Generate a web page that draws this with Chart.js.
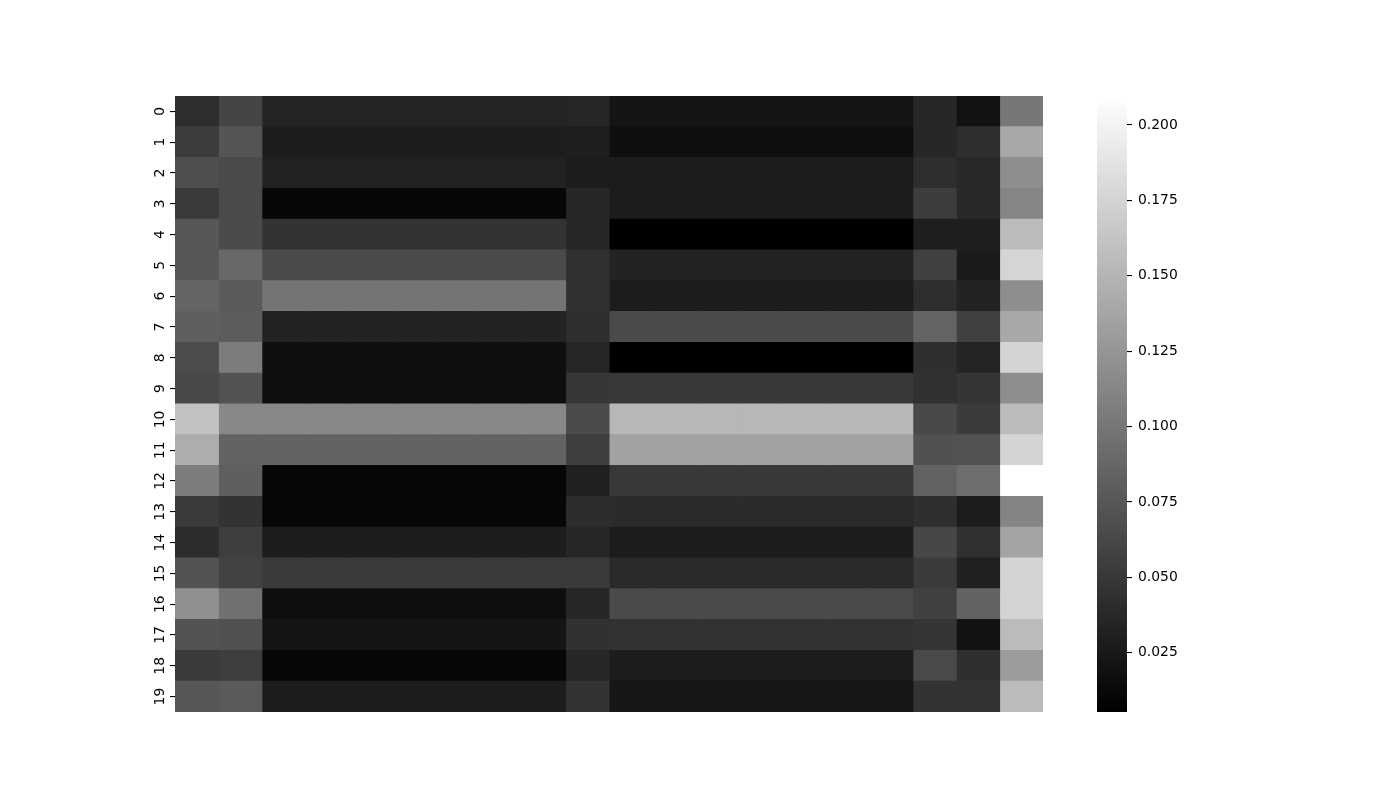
<!DOCTYPE html>
<html>
<head>
<meta charset="utf-8">
<script src="https://cdn.jsdelivr.net/npm/chart.js@4.4.1/dist/chart.umd.min.js"></script>
<style>
  body { margin: 0; background: #fff; }
  #wrap { position: relative; width: 1400px; height: 800px; }
  canvas { position: absolute; top: 0; }
</style>
</head>
<body>
<div id="wrap">
  <canvas id="heat" width="1090" height="800" style="left:0"></canvas>
  <canvas id="cbar" width="200" height="800" style="left:1097px"></canvas>
</div>
<script>
// Row labels (y axis) and colour scale limits
const rowLabels = ['0','1','2','3','4','5','6','7','8','9','10','11','12','13','14','15','16','17','18','19'];
const vmin = 0.0054;
const vmax = 0.2096;
const cbTicks = [0.025, 0.05, 0.075, 0.1, 0.125, 0.15, 0.175, 0.2];

// One array per heatmap row, 20 columns each
const row00 = [0.0422, 0.0599, 0.0342, 0.0342, 0.0342, 0.0342, 0.0342, 0.0342, 0.0342, 0.0358, 0.0222, 0.0222, 0.0222, 0.0222, 0.0222, 0.0222, 0.0222, 0.0366, 0.0198, 0.1007];
const row01 = [0.0534, 0.0735, 0.0286, 0.0286, 0.0286, 0.0286, 0.0286, 0.0286, 0.0286, 0.0294, 0.0174, 0.0174, 0.0174, 0.0174, 0.0174, 0.0174, 0.0174, 0.0366, 0.0430, 0.1399];
const row02 = [0.0679, 0.0647, 0.0326, 0.0326, 0.0326, 0.0326, 0.0326, 0.0326, 0.0326, 0.0278, 0.0278, 0.0278, 0.0278, 0.0278, 0.0278, 0.0278, 0.0278, 0.0422, 0.0382, 0.1191];
const row03 = [0.0518, 0.0647, 0.0110, 0.0110, 0.0110, 0.0110, 0.0110, 0.0110, 0.0110, 0.0366, 0.0278, 0.0278, 0.0278, 0.0278, 0.0278, 0.0278, 0.0278, 0.0542, 0.0382, 0.1119];
const row04 = [0.0751, 0.0655, 0.0462, 0.0462, 0.0462, 0.0462, 0.0462, 0.0462, 0.0462, 0.0366, 0.0054, 0.0054, 0.0054, 0.0054, 0.0054, 0.0054, 0.0054, 0.0294, 0.0302, 0.1551];
const row05 = [0.0743, 0.0887, 0.0655, 0.0655, 0.0655, 0.0655, 0.0655, 0.0655, 0.0655, 0.0438, 0.0334, 0.0334, 0.0334, 0.0334, 0.0334, 0.0334, 0.0334, 0.0566, 0.0270, 0.1760];
const row06 = [0.0855, 0.0775, 0.0983, 0.0983, 0.0983, 0.0983, 0.0983, 0.0983, 0.0983, 0.0446, 0.0278, 0.0278, 0.0278, 0.0278, 0.0278, 0.0278, 0.0278, 0.0422, 0.0334, 0.1191];
const row07 = [0.0815, 0.0799, 0.0334, 0.0334, 0.0334, 0.0334, 0.0334, 0.0334, 0.0334, 0.0422, 0.0647, 0.0647, 0.0647, 0.0647, 0.0647, 0.0647, 0.0647, 0.0855, 0.0566, 0.1399];
const row08 = [0.0663, 0.1047, 0.0174, 0.0174, 0.0174, 0.0174, 0.0174, 0.0174, 0.0174, 0.0358, 0.0054, 0.0054, 0.0054, 0.0054, 0.0054, 0.0054, 0.0054, 0.0430, 0.0342, 0.1752];
const row09 = [0.0631, 0.0719, 0.0174, 0.0174, 0.0174, 0.0174, 0.0174, 0.0174, 0.0174, 0.0494, 0.0502, 0.0502, 0.0502, 0.0502, 0.0502, 0.0502, 0.0502, 0.0438, 0.0478, 0.1191];
const row10 = [0.1607, 0.1143, 0.1143, 0.1143, 0.1143, 0.1143, 0.1143, 0.1143, 0.1143, 0.0647, 0.1519, 0.1519, 0.1519, 0.1519, 0.1519, 0.1519, 0.1519, 0.0639, 0.0526, 0.1551];
const row11 = [0.1439, 0.0847, 0.0847, 0.0847, 0.0847, 0.0847, 0.0847, 0.0847, 0.0847, 0.0550, 0.1351, 0.1351, 0.1351, 0.1351, 0.1351, 0.1351, 0.1351, 0.0703, 0.0711, 0.1752];
const row12 = [0.1055, 0.0815, 0.0102, 0.0102, 0.0102, 0.0102, 0.0102, 0.0102, 0.0102, 0.0310, 0.0502, 0.0502, 0.0502, 0.0502, 0.0502, 0.0502, 0.0502, 0.0839, 0.0935, 0.2096];
const row13 = [0.0526, 0.0462, 0.0102, 0.0102, 0.0102, 0.0102, 0.0102, 0.0102, 0.0102, 0.0414, 0.0398, 0.0398, 0.0398, 0.0398, 0.0398, 0.0398, 0.0398, 0.0430, 0.0278, 0.1111];
const row14 = [0.0406, 0.0550, 0.0286, 0.0286, 0.0286, 0.0286, 0.0286, 0.0286, 0.0286, 0.0366, 0.0278, 0.0278, 0.0278, 0.0278, 0.0278, 0.0278, 0.0278, 0.0623, 0.0438, 0.1367];
const row15 = [0.0719, 0.0583, 0.0518, 0.0518, 0.0518, 0.0518, 0.0518, 0.0518, 0.0518, 0.0518, 0.0390, 0.0390, 0.0390, 0.0390, 0.0390, 0.0390, 0.0390, 0.0526, 0.0310, 0.1752];
const row16 = [0.1199, 0.0951, 0.0166, 0.0166, 0.0166, 0.0166, 0.0166, 0.0166, 0.0166, 0.0366, 0.0647, 0.0647, 0.0647, 0.0647, 0.0647, 0.0647, 0.0647, 0.0574, 0.0847, 0.1752];
const row17 = [0.0719, 0.0703, 0.0222, 0.0222, 0.0222, 0.0222, 0.0222, 0.0222, 0.0222, 0.0446, 0.0454, 0.0454, 0.0454, 0.0454, 0.0454, 0.0454, 0.0454, 0.0478, 0.0206, 0.1551];
const row18 = [0.0526, 0.0550, 0.0110, 0.0110, 0.0110, 0.0110, 0.0110, 0.0110, 0.0110, 0.0366, 0.0278, 0.0278, 0.0278, 0.0278, 0.0278, 0.0278, 0.0278, 0.0647, 0.0430, 0.1295];
const row19 = [0.0751, 0.0775, 0.0286, 0.0286, 0.0286, 0.0286, 0.0286, 0.0286, 0.0286, 0.0462, 0.0230, 0.0230, 0.0230, 0.0230, 0.0230, 0.0230, 0.0230, 0.0462, 0.0462, 0.1551];

const rows = [row00, row01, row02, row03, row04, row05, row06, row07, row08, row09,
              row10, row11, row12, row13, row14, row15, row16, row17, row18, row19];

const FONT = "'DejaVu Sans', sans-serif";

// matplotlib 'gray' colormap
function grayColor(v) {
    const t = Math.min(1, Math.max(0, (v - vmin) / (vmax - vmin)));
    const g = Math.round(t * 255);
    return `rgb(${g},${g},${g})`;
}

// one floating-bar dataset per column, spanning [col, col+1] on the x scale
const nCols = row00.length;
const datasets = [];
for (let c = 0; c < nCols; c++) {
    datasets.push({
        data: rows.map(() => [c, c + 1]),
        backgroundColor: rows.map(r => grayColor(r[c])),
        borderWidth: 0,
        inflateAmount: 0.5,
        grouped: false,
        barPercentage: 1,
        categoryPercentage: 1
    });
}

// draw the vertical (rotated) row labels next to the tick marks
const rotatedLabels = {
    id: 'rotatedLabels',
    afterDraw(chart) {
        const ctx = chart.ctx;
        const scale = chart.scales.y;
        const x = chart.chartArea.left - 5 - 5;
        ctx.save();
        ctx.fillStyle = '#000';
        ctx.font = `13.9px ${FONT}`;
        ctx.textAlign = 'center';
        ctx.textBaseline = 'bottom';
        rowLabels.forEach((lab, i) => {
            const y = scale.getPixelForTick(i);
            ctx.save();
            ctx.translate(x, y);
            ctx.rotate(-Math.PI / 2);
            ctx.fillText(lab, 0, 2);
            ctx.restore();
        });
        ctx.restore();
    }
};

new Chart(document.getElementById('heat'), {
    type: 'bar',
    plugins: [rotatedLabels],
    data: { labels: rowLabels, datasets: datasets },
    options: {
        indexAxis: 'y',
        responsive: false,
        animation: false,
        layout: { padding: { top: 96, bottom: 88, left: 0, right: 47 } },
        plugins: { legend: { display: false }, tooltip: { enabled: false } },
        scales: {
            x: { type: 'linear', min: 0, max: nCols, display: false },
            y: {
                type: 'category',
                offset: true,
                border: { display: false },
                grid: { offset: false, drawOnChartArea: false, drawTicks: true, tickLength: 5, color: '#000', lineWidth: 1.1 },
                ticks: { display: false },
                afterFit(scale) { scale.width = 175; }
            }
        }
    }
});

// colour bar
new Chart(document.getElementById('cbar'), {
    type: 'bar',
    data: {
        labels: [''],
        datasets: [{
            data: [[vmin, vmax]],
            backgroundColor: (c) => {
                const area = c.chart.chartArea;
                if (!area) return '#888';
                const g = c.chart.ctx.createLinearGradient(0, area.bottom, 0, area.top);
                g.addColorStop(0, '#000');
                g.addColorStop(1, '#fff');
                return g;
            },
            borderWidth: 0,
            barPercentage: 1,
            categoryPercentage: 1
        }]
    },
    options: {
        responsive: false,
        animation: false,
        layout: { padding: { top: 96, bottom: 88, left: 0, right: 0 } },
        plugins: { legend: { display: false }, tooltip: { enabled: false } },
        scales: {
            x: { display: false },
            y: {
                position: 'right',
                min: vmin,
                max: vmax,
                border: { display: false },
                grid: { drawOnChartArea: false, drawTicks: true, tickLength: 5, color: '#000', lineWidth: 1.1 },
                afterBuildTicks(scale) { scale.ticks = cbTicks.map(v => ({ value: v })); },
                ticks: {
                    color: '#000',
                    padding: 6,
                    font: { family: FONT, size: 13.9 },
                    callback: (v) => Number(v).toFixed(3)
                },
                afterFit(scale) { scale.width = 170; }
            }
        }
    }
});
</script>
</body>
</html>
